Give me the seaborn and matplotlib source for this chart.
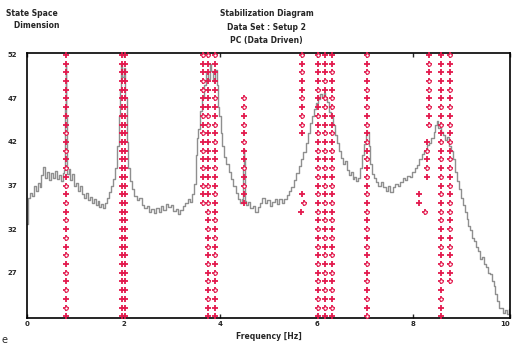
import matplotlib
matplotlib.use('Agg')
import matplotlib.pyplot as plt
import seaborn as sns
import pandas as pd

# spectrum overlay (frequency [Hz], level scaled to the order axis)
spec_freq = [0.00, 0.04, 0.08, 0.12, 0.16, 0.20, 0.24, 0.28, 0.32, 0.36, 0.40, 0.44, 0.48, 0.52,
             0.56, 0.60, 0.64, 0.68, 0.72, 0.76, 0.79, 0.80, 0.81, 0.82, 0.84, 0.88, 0.92, 0.96,
             1.00, 1.04, 1.08, 1.12, 1.16, 1.20, 1.24, 1.28, 1.32, 1.36, 1.40, 1.44, 1.48, 1.52,
             1.56, 1.60, 1.64, 1.68, 1.72, 1.76, 1.80, 1.84, 1.88, 1.91, 1.94, 1.96, 1.99, 2.02,
             2.05, 2.08, 2.11, 2.15, 2.20, 2.25, 2.30, 2.35, 2.40, 2.45, 2.50, 2.55, 2.60, 2.65,
             2.70, 2.75, 2.80, 2.85, 2.90, 2.95, 3.00, 3.05, 3.10, 3.15, 3.20, 3.25, 3.30, 3.35,
             3.40, 3.44, 3.48, 3.51, 3.53, 3.57, 3.61, 3.65, 3.69, 3.72, 3.76, 3.80, 3.84, 3.88,
             3.91, 3.94, 3.97, 4.00, 4.03, 4.06, 4.10, 4.15, 4.20, 4.25, 4.30, 4.35, 4.40, 4.44,
             4.47, 4.48, 4.49, 4.50, 4.52, 4.56, 4.60, 4.65, 4.70, 4.75, 4.80, 4.85, 4.90, 4.95,
             5.00, 5.05, 5.10, 5.15, 5.20, 5.25, 5.30, 5.35, 5.40, 5.45, 5.50, 5.55, 5.60, 5.65,
             5.70, 5.75, 5.80, 5.84, 5.88, 5.92, 5.96, 6.00, 6.04, 6.08, 6.12, 6.16, 6.20, 6.24,
             6.28, 6.32, 6.36, 6.40, 6.44, 6.48, 6.52, 6.56, 6.60, 6.64, 6.68, 6.72, 6.76, 6.80,
             6.84, 6.88, 6.92, 6.96, 7.00, 7.03, 7.06, 7.09, 7.12, 7.16, 7.20, 7.25, 7.30, 7.35,
             7.40, 7.45, 7.50, 7.55, 7.60, 7.65, 7.70, 7.75, 7.80, 7.85, 7.90, 7.95, 8.00, 8.05,
             8.10, 8.15, 8.20, 8.25, 8.30, 8.35, 8.40, 8.44, 8.47, 8.50, 8.53, 8.56, 8.60, 8.64,
             8.68, 8.72, 8.76, 8.80, 8.84, 8.88, 8.92, 8.96, 9.00, 9.04, 9.08, 9.12, 9.16, 9.20,
             9.24, 9.28, 9.32, 9.36, 9.40, 9.44, 9.48, 9.52, 9.56, 9.60, 9.64, 9.68, 9.72, 9.76,
             9.80, 9.84, 9.88, 9.92, 9.96, 10.00]
spec_level = [32.6, 35.6, 36.2, 35.8, 36.9, 36.4, 37.3, 36.8, 38.2, 39.1, 37.9, 38.6, 37.6, 38.4,
              37.9, 38.7, 37.8, 38.2, 37.5, 38.4, 38.8, 46.0, 50.8, 45.0, 38.3, 38.9, 37.6, 38.3,
              37.0, 37.3, 36.4, 36.9, 36.0, 35.6, 36.1, 35.3, 35.7, 35.0, 35.4, 34.8, 35.2, 34.5,
              34.9, 34.4, 35.0, 35.6, 36.3, 36.9, 37.8, 39.0, 41.5, 45.0, 48.0, 51.0, 49.5, 50.5,
              47.0, 42.0, 39.0, 37.5, 36.6, 35.8, 35.3, 35.6, 34.8, 34.4, 34.7, 34.0, 34.3, 33.9,
              34.4, 34.0, 34.6, 34.2, 34.9, 34.5, 34.8, 34.1, 34.3, 33.7, 34.2, 34.6, 35.0, 35.4,
              35.1, 36.0, 37.2, 40.5, 42.5, 43.5, 45.5, 47.0, 48.5, 50.0, 49.2, 51.0, 50.2, 49.0,
              50.3, 48.5, 46.0, 45.0, 43.0, 41.5, 40.3, 39.5, 38.6, 37.8, 36.9, 36.2, 35.5, 35.0,
              35.4, 39.0, 41.2, 40.0, 35.2, 34.8, 35.1, 34.4, 34.7, 34.0, 34.5, 35.0, 35.6, 35.0,
              35.3, 34.6, 35.1, 35.5, 34.9, 35.4, 35.0, 35.5, 35.9, 36.4, 36.8, 37.6, 38.4, 39.2,
              40.0, 40.8, 41.9, 43.0, 44.2, 45.0, 45.8, 46.5, 46.9, 47.5, 47.2, 47.6, 47.0, 46.6,
              45.4, 44.9, 44.0, 42.8, 41.9, 41.0, 40.2, 39.5, 39.8, 38.8, 38.2, 38.5, 37.8, 38.0,
              37.5, 37.9, 39.0, 40.5, 41.8, 42.8, 43.2, 41.5, 39.5, 38.3, 37.9, 37.4, 37.0, 37.4,
              36.8, 36.4, 36.9, 36.3, 36.8, 37.2, 36.9, 37.4, 37.9, 37.6, 38.1, 38.0, 38.6, 39.0,
              39.4, 40.0, 40.6, 41.0, 41.6, 41.9, 42.4, 43.2, 44.0, 44.4, 43.6, 43.9, 43.2, 42.8,
              42.2, 42.6, 41.5, 41.0, 40.0, 38.6, 37.5, 36.6, 35.6, 34.8, 34.0, 33.2, 32.3, 31.9,
              31.0, 30.6, 29.9, 29.5, 28.6, 28.8, 28.0, 27.6, 27.0, 26.8, 26.0, 25.5, 24.6, 23.8,
              23.0, 22.9, 22.4, 22.7, 22.3, 22.8]

# pole columns: frequency, highest order, status per order going down ('+' stable, 'o' stable freq+damping)
col_freq = [0.81, 1.97, 2.03, 3.64, 3.75, 3.90, 4.49, 5.70, 6.02, 6.18, 6.31, 7.04, 8.32, 8.28,
            8.57, 8.76]
col_top = [52, 52, 52, 52, 52, 52, 47, 52, 52, 52, 52, 52, 52, 42, 52, 52]
col_status = [
    '+++++++++o+o+o+o+o+o+o+o+o+o+o+',
    '+++++++++++++++++++++++++++++++',
    '+++++++++++++++++++++++++++++++',
    'o++oo++o+o+o+o+o+o',
    'o++++++oo++++++o+oo+o+o+o+o+o++',
    'o++++o++o+o++o++o++o+o+o+o+o+++',
    'oo+o+o++o+o++',
    'o+o++o+oo+',
    'o+++o++o+o+o+oo+o+o+o+o+o+o+oo+',
    '+++o+oo++o+o+o+o+o+o+o+o+o+o+o+',
    '++o++oo++o+o+o+o+o+o+o+o+o+o+o+',
    'o+o+o+o+o+o+o+o+o+o+o+o+o+o+o+o',
    '+o+oo+o+o',
    '+o+o+',
    '++++++o+o+o+o+o+o+oo++o+o+o+o++',
    'o+++o+o+o+o+oo+o+oo+o+o+o+o',
]
# isolated poles
extra_freq = [5.70, 5.74, 5.68, 8.12, 8.12, 8.24]
extra_order = [36, 35, 34, 36, 35, 34]
extra_status = ['+', 'o', '+', '+', '+', 'o']

rows = []
for f, top, st in zip(col_freq, col_top, col_status):
    for i, s in enumerate(st):
        rows.append({'freq': f, 'order': top - i, 'status': s})
for f, n, s in zip(extra_freq, extra_order, extra_status):
    rows.append({'freq': f, 'order': n, 'status': s})
poles = pd.DataFrame(rows)
spec = pd.DataFrame({'freq': spec_freq, 'level': spec_level})

sns.set_style('white')
plt.rcParams['font.family'] = ['DejaVu Sans']

fig = plt.figure(figsize=(5.13, 3.47), dpi=100)
ax = fig.add_axes([0.0526, 0.0836, 0.9415, 0.7634])
pole_color = '#e3194d'

sns.lineplot(data=spec, x='freq', y='level', ax=ax, color='#8f8f8f', linewidth=1.0,
             sort=False, estimator=None, drawstyle='steps-mid', zorder=1)
sns.scatterplot(data=poles, x='freq', y='order', ax=ax, marker='+', s=20, color=pole_color,
                linewidth=1.3, zorder=3, clip_on=False)
sns.scatterplot(data=poles[poles['status'] == 'o'], x='freq', y='order', ax=ax, marker='o', s=6,
                facecolor='white', edgecolor=pole_color, linewidth=0.8, zorder=4, clip_on=False)

ax.set_xlim(0, 10)
ax.set_ylim(21.8, 52.2)
ax.set_xticks([0, 2, 4, 6, 8, 10])
ax.set_yticks([27, 32, 37, 42, 47, 52])
ax.tick_params(axis='x', direction='in', length=3, width=1, labelsize=5, pad=2, top=True,
               bottom=True)
ax.tick_params(axis='y', length=0, labelsize=5, pad=7)
for lab in ax.get_xticklabels() + ax.get_yticklabels():
    lab.set_fontweight('bold')
ax.get_xticklabels()[-1].set_horizontalalignment('right')
for sp in ax.spines.values():
    sp.set_color('black')
    sp.set_linewidth(1.2)

ax.set_xlabel('Frequency [Hz]', fontsize=5.5, fontweight='bold', labelpad=4)
ax.set_ylabel('')
fig.text(0.52, 0.975, 'Stabilization Diagram\nData Set : Setup 2\nPC (Data Driven)',
         ha='center', va='top', fontsize=5.5, fontweight='bold', linespacing=1.7)
fig.text(0.012, 0.975, 'State Space\n   Dimension', ha='left', va='top', fontsize=5.5,
         fontweight='bold', linespacing=1.5)
fig.text(0.002, 0.005, 'e', ha='left', va='bottom', fontsize=7)

fig.savefig('out.png', dpi=100)
plt.close(fig)
